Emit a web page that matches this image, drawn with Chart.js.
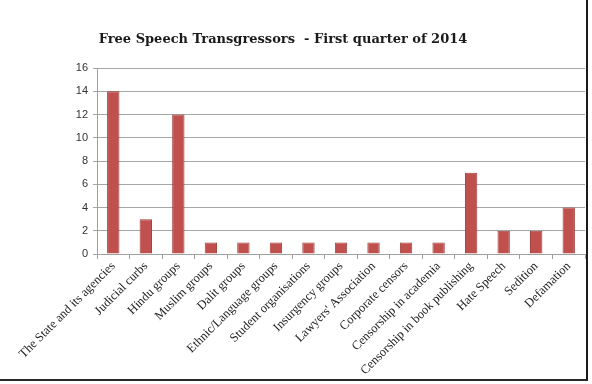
<!DOCTYPE html>
<html>
<head>
<meta charset="utf-8">
<script src="https://cdn.jsdelivr.net/npm/chart.js@4/dist/chart.umd.min.js"></script>
<style>
  html, body { margin: 0; padding: 0; background: #fff; }
  #frame {
    position: absolute; left: 0; top: 0;
    width: 586px; height: 379px;
    border-right: 2px solid #1a1a1a;
    border-bottom: 2px solid #2a2a2a;
    background: #fff;
  }
  #chart { position: absolute; left: 0; top: 0; }
</style>
</head>
<body>
<div id="frame"><canvas id="chart" width="586" height="379"></canvas></div>
<script>
// 分類とデータ
const categories = [
  'The State and its agencies', 'Judicial curbs', 'Hindu groups', 'Muslim groups',
  'Dalit groups', 'Ethnic/Language groups', 'Student organisations', 'Insurgency groups',
  "Lawyers' Association", 'Corporate censors', 'Censorship in academia',
  'Censorship in book publishing', 'Hate Speech', 'Sedition', 'Defamation'
];
const counts = [14, 3, 12, 1, 1, 1, 1, 1, 1, 1, 1, 7, 2, 2, 4];
const yTicks = [0, 2, 4, 6, 8, 10, 12, 14, 16];

const titleText = 'Free Speech Transgressors  - First quarter of 2014';

// タイトルは少し左寄り (元画像に合わせる)
const titlePlugin = {
  id: 'offsetTitle',
  afterDraw(chart) {
    const ctx = chart.ctx;
    ctx.save();
    ctx.font = 'bold 13px "DejaVu Serif"';
    ctx.fillStyle = '#1a1a1a';
    ctx.textAlign = 'center';
    ctx.textBaseline = 'middle';
    ctx.fillText(titleText, 283, 40);
    ctx.restore();
  },
};

new Chart(document.getElementById('chart'), {
  type: 'bar',
  data: {
    labels: categories,
    datasets: [{
      data: counts,
      backgroundColor: '#c0504d',
      borderColor: '#a33f3c',
      borderWidth: 1,
      categoryPercentage: 1,
      barPercentage: 0.38,
    }],
  },
  options: {
    responsive: false,
    animation: false,
    layout: { padding: { left: 0, right: 1, top: 68, bottom: 0 } },
    plugins: {
      legend: { display: false },
      tooltip: { enabled: false },
      title: { display: false },
    },
    scales: {
      y: {
        min: 0,
        max: 16,
        afterBuildTicks: scale => { scale.ticks = yTicks.map(v => ({ value: v })); },
        afterFit: scale => { scale.width = 97; },
        border: { color: '#a0a0a0' },
        grid: { color: '#a6a6a6', tickLength: 4 },
        ticks: {
          color: '#333',
          padding: 5,
          font: { family: 'Liberation Sans', size: 11 },
        },
      },
      x: {
        afterFit: scale => { scale.height = 379 - 254; },
        border: { color: '#a0a0a0' },
        grid: { drawOnChartArea: false, color: '#a0a0a0', tickLength: 5, offset: true },
        ticks: {
          color: '#222',
          autoSkip: false,
          maxRotation: 45,
          minRotation: 45,
          padding: 0,
          font: { family: 'Liberation Serif', size: 12.5 },
        },
      },
    },
  },
  plugins: [titlePlugin],
});
</script>
</body>
</html>
